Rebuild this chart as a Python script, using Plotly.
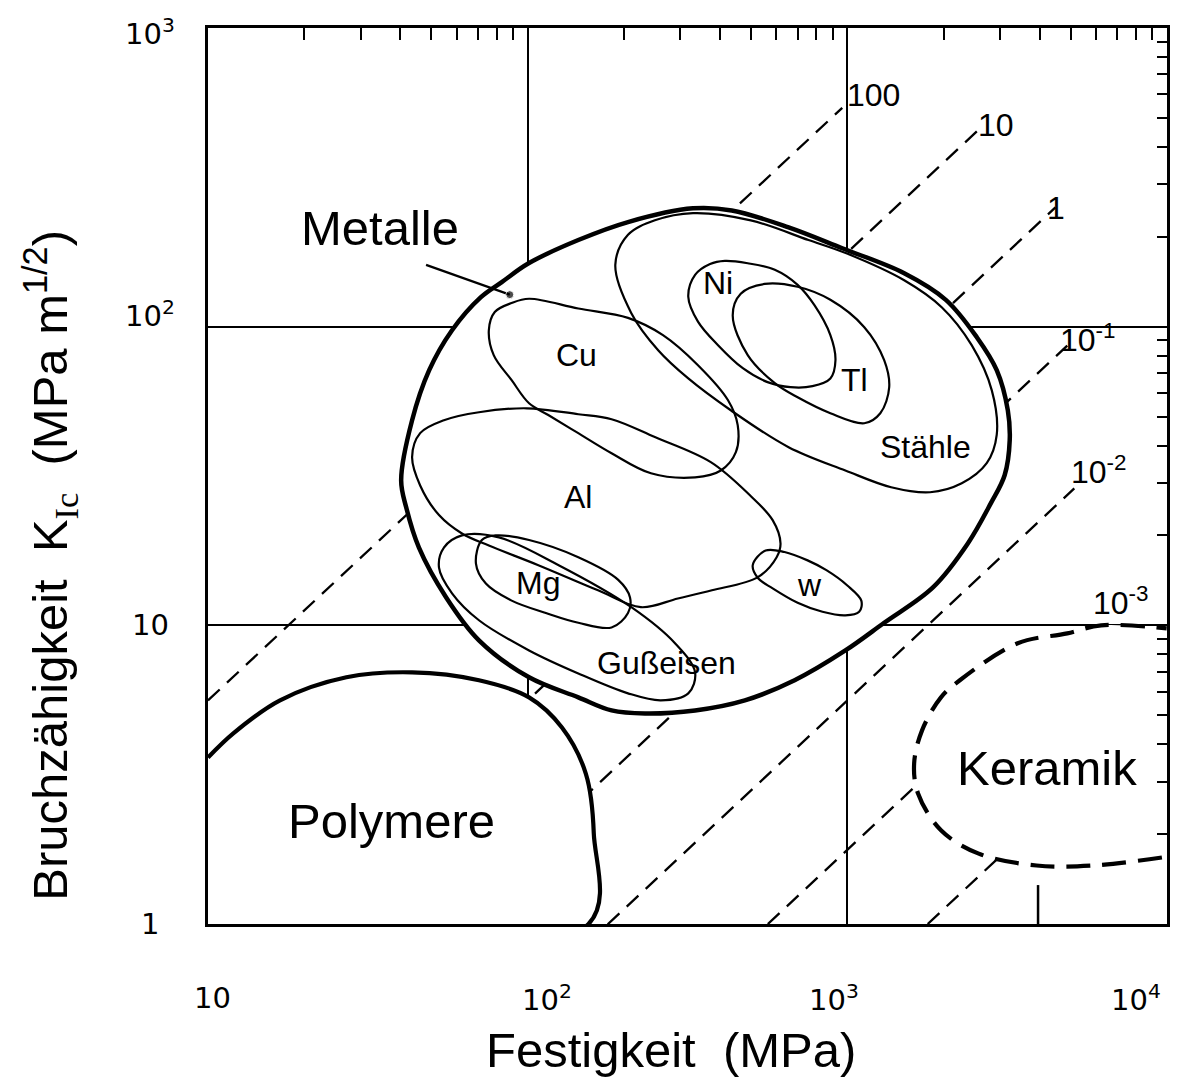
import numpy as np
import plotly.graph_objects as go

# ---------------- axis tick data ----------------
x_tick_vals = [10, 100, 1000, 10000]
x_tick_text = ["10", "10<sup>2</sup>", "10<sup>3</sup>", "10<sup>4</sup>"]
y_tick_vals = [1, 10, 100, 1000]
y_tick_text = ["1", "10", "10<sup>2</sup>", "10<sup>3</sup>"]
grid_x = [100, 1000]
grid_y = [10, 100]
minor_x = [20, 30, 40, 50, 60, 70, 80, 90, 200, 300, 400, 500, 600, 700, 800, 900,
           2000, 3000, 4000, 5000, 6000, 7000, 8000, 9000]
minor_y = [2, 3, 4, 5, 6, 7, 8, 9, 20, 30, 40, 50, 60, 70, 80, 90,
           200, 300, 400, 500, 600, 700, 800, 900]

# ---------------- process-zone lines  K^2/(pi*sigma^2) = c (mm) ----------------
zone_c = [100, 10, 1, 0.1, 0.01, 0.001, 0.0001]
zone_sigma_start = [10, 300, 17.8, 56.4, 178, 564, 1784]
zone_sigma_end = [964, 2541, 4477, 4875, 5129, 2500, 3500]
zone_labels = ["100", "10", "1", "10<sup>-1</sup>", "10<sup>-2</sup>", "10<sup>-3</sup>", ""]
zone_label_sigma = [1205, 2911, 4509, 5675, 6138, 7194, None]
zone_label_K = [597, 473, 250, 91.5, 33.0, 12.1, None]

# ---------------- material field outlines (sigma MPa, K MPa m^1/2) ----------------
metals_sigma = [40.2, 43.5, 49.2, 58.0, 71.4, 83.0, 100.7, 144, 206, 329, 435, 655, 964, 1506,
                2033, 2541, 2933, 3177, 3221, 3105, 2810, 2382, 1853, 1304, 986, 684, 478, 334,
                233, 183, 144, 101, 70.4, 55.6, 45.7, 41.7]
metals_K = [30.6, 48.6, 71.5, 97.3, 125.6, 141, 163, 195, 224, 249, 245, 215, 183, 151,
            123, 92.2, 71.5, 52.5, 41.7, 31.8, 25.6, 18.8, 13.4, 10.2, 8.24, 6.55, 5.61, 5.19,
            5.07, 5.19, 5.74, 6.70, 8.91, 12.4, 18.2, 24.8]

steel_sigma = [188, 206, 250, 329, 499, 756, 993, 1506, 1977, 2449, 2831, 2933, 2729, 2280,
               1815, 1371, 986, 655, 432, 318, 256, 211]
steel_K = [161, 203, 227, 240, 227, 195, 176, 143, 116, 86.7, 61.2, 43.4, 34.9, 29.9,
           27.9, 29.0, 33.0, 39.5, 52.5, 67.1, 83.4, 111]

ni_sigma = [318, 334, 372, 414, 488, 593, 699, 789, 885, 918, 885, 778, 664, 563, 471, 394, 341]
ni_K = [126, 149, 162, 166, 163, 155, 138, 118, 93.7, 77.2, 67.1, 63.2, 62.7, 65.2, 72.6, 86.7, 104]

ti_sigma = [438, 464, 551, 699, 885, 1130, 1304, 1352, 1268, 1130, 885, 699, 593, 488]
ti_K = [109, 129, 139, 136, 123, 99.6, 77.2, 62.7, 51.3, 47.5, 51.3, 58.0, 64.7, 80.3]

cu_sigma = [75.6, 78.9, 89.1, 101, 144, 206, 265, 341, 423, 454, 448, 402, 334, 243, 183,
            144, 116, 101, 89.1, 78.3]
cu_K = [97.3, 112, 120, 124, 115, 107, 93.7, 74.3, 56.8, 46.8, 38.0, 33.0, 31.3, 32.3, 37.7,
        44.0, 50.6, 55.4, 66.2, 80.3]

al_sigma = [43.5, 46.1, 54.7, 70.4, 99.3, 144, 183, 250, 374, 495, 584, 618, 601, 525, 377,
            295, 226, 166, 108, 75.6, 62.3, 52.8, 46.1]
al_K = [36.6, 44.0, 48.6, 51.7, 53.3, 50.9, 49.0, 42.7, 35.2, 27.3, 22.5, 18.8, 16.9, 14.5, 13.1,
        12.3, 11.5, 13.1, 15.9, 18.5, 20.3, 23.4, 29.4]

mg_sigma = [71.9, 68.9, 74.0, 89.1, 114, 144, 183, 206, 209, 192, 144, 101, 79.4]
mg_K = [19.3, 16.1, 13.8, 12.1, 11.0, 10.2, 9.84, 11.0, 12.4, 14.2, 16.9, 19.3, 20.0]

castiron_sigma = [62.3, 81.3, 125, 211, 289, 334, 318, 261, 206, 144, 101, 70.4, 58.0, 52.8, 54.7]
castiron_K = [20.0, 19.7, 15.9, 11.5, 8.71, 6.96, 5.92, 5.61, 5.92, 6.90, 8.24, 10.4, 12.8, 15.6, 18.2]

w_sigma = [506, 555, 636, 751, 860, 1000, 1106, 1089, 986, 836, 699, 584, 525]
w_K = [15.9, 17.8, 17.6, 16.5, 15.3, 13.6, 12.1, 11.1, 10.8, 11.1, 11.9, 13.3, 14.4]

polymer_sigma = [10, 12.0, 16.8, 27.1, 43.5, 70.4, 101, 128, 152, 161, 155]
polymer_K = [3.61, 4.35, 5.61, 6.70, 6.96, 6.55, 5.74, 4.55, 3.19, 2.01, 1.0]

ceramic_sigma = [9640, 5875, 3908, 2576, 1963, 1663, 1618, 1713, 1963, 2249, 3412, 4875, 6223, 9978]
ceramic_K = [1.67, 1.57, 1.57, 1.72, 2.06, 2.74, 3.45, 4.45, 5.74, 6.55, 8.71, 9.40, 10.0, 9.77]

pointer_sigma = [48.1, 87.9]
pointer_K = [161, 128]
stub_sigma = [3950, 3950]
stub_K = [1.0, 1.35]

# ---------------- labels ----------------
field_names = ["Metalle", "Polymere", "Keramik"]
field_sigma = [34.4, 37.4, 4198]
field_K = [214, 2.22, 3.34]

sub_names = ["Cu", "Ni", "Tl", "Stähle", "Al", "Mg", "w", "Gußeisen"]
sub_sigma = [142, 394, 1052, 1750, 144, 108, 762, 271]
sub_K = [80.4, 140, 66.2, 39.4, 26.8, 13.9, 13.6, 7.46]

# label pixel nudges (style only)
x_label_dx = [4, 19, -13, -31]
y_label_dy = [0, 0, 13, -4]

FONT = "Liberation Sans, Arial, Helvetica, sans-serif"
TICKFONT = "DejaVu Sans, Liberation Sans, sans-serif"
fig = go.Figure()


def closed(xs, ys):
    return list(xs) + [xs[0]], list(ys) + [ys[0]]


# process-zone dashed lines
for c, s0, s1 in zip(zone_c, zone_sigma_start, zone_sigma_end):
    f = np.sqrt(np.pi * c / 1000.0)
    fig.add_trace(go.Scatter(x=[s0, s1], y=[s0 * f, s1 * f], mode="lines",
                             line=dict(color="black", width=2.3, dash="16px,10px"),
                             hoverinfo="skip", showlegend=False))

fig.add_trace(go.Scatter(x=stub_sigma, y=stub_K, mode="lines",
                         line=dict(color="black", width=2.5), hoverinfo="skip", showlegend=False))

# polymer field (white fill hides grid + lines beneath)
px_, py_ = polymer_sigma + [8.0, 8.0], polymer_K + [0.8, polymer_K[0]]
fig.add_trace(go.Scatter(x=px_, y=py_, mode="lines", fill="toself", fillcolor="white",
                         line=dict(color="black", width=4.2, shape="spline", smoothing=1.0),
                         hoverinfo="skip", showlegend=False))

# ceramic field: white fill, then dashed outline
cx_ = ceramic_sigma + [12000, 12000, ceramic_sigma[0]]
cy_ = ceramic_K + [ceramic_K[-1], ceramic_K[0], ceramic_K[0]]
fig.add_trace(go.Scatter(x=cx_, y=cy_, mode="lines", fill="toself", fillcolor="white",
                         line=dict(color="rgba(0,0,0,0)", width=0, shape="spline", smoothing=1.0),
                         hoverinfo="skip", showlegend=False))
fig.add_trace(go.Scatter(x=ceramic_sigma, y=ceramic_K, mode="lines",
                         line=dict(color="black", width=4.2, dash="24px,12px",
                                   shape="spline", smoothing=1.0),
                         hoverinfo="skip", showlegend=False))

# metals field
mx, my = closed(metals_sigma, metals_K)
fig.add_trace(go.Scatter(x=mx, y=my, mode="lines", fill="toself", fillcolor="white",
                         line=dict(color="black", width=4.5, shape="spline", smoothing=1.0),
                         hoverinfo="skip", showlegend=False))

# sub-fields
for xs, ys in [(steel_sigma, steel_K), (ni_sigma, ni_K), (ti_sigma, ti_K), (cu_sigma, cu_K),
               (al_sigma, al_K), (mg_sigma, mg_K), (castiron_sigma, castiron_K), (w_sigma, w_K)]:
    sx, sy = closed(xs, ys)
    fig.add_trace(go.Scatter(x=sx, y=sy, mode="lines",
                             line=dict(color="black", width=2.2, shape="spline", smoothing=1.0),
                             hoverinfo="skip", showlegend=False))

# pointer for "Metalle"
fig.add_trace(go.Scatter(x=pointer_sigma, y=pointer_K, mode="lines+markers",
                         line=dict(color="black", width=2.2),
                         marker=dict(color="black", size=[0, 8]),
                         hoverinfo="skip", showlegend=False))

# dummy trace for top/right tick axes
fig.add_trace(go.Scatter(x=[10], y=[1], xaxis="x2", yaxis="y2", mode="markers",
                         marker=dict(opacity=0), hoverinfo="skip", showlegend=False))

annotations = []
for t, s, k in zip(field_names, field_sigma, field_K):
    annotations.append(dict(x=np.log10(s), y=np.log10(k), xref="x", yref="y", text=t,
                            xanchor="center", yanchor="middle",
                            showarrow=False, font=dict(size=49, family=FONT, color="black")))
for t, s, k in zip(sub_names, sub_sigma, sub_K):
    annotations.append(dict(x=np.log10(s), y=np.log10(k), xref="x", yref="y", text=t,
                            xanchor="center", yanchor="middle",
                            showarrow=False, font=dict(size=32, family=FONT, color="black")))
for t, s, k in zip(zone_labels, zone_label_sigma, zone_label_K):
    if not t:
        continue
    annotations.append(dict(x=np.log10(s), y=np.log10(k), xref="x", yref="y", text=t,
                            xanchor="center", yanchor="middle",
                            showarrow=False, font=dict(size=32, family=FONT, color="black")))
for v, t, dx in zip(x_tick_vals, x_tick_text, x_label_dx):
    annotations.append(dict(x=np.log10(v), y=0, xref="x", yref="paper", yshift=-74,
                            xshift=dx, xanchor="center", yanchor="middle",
                            text=t, showarrow=False,
                            font=dict(size=29, family=TICKFONT, color="black")))
for v, t, dy in zip(y_tick_vals, y_tick_text, y_label_dy):
    annotations.append(dict(x=0, y=np.log10(v), xref="paper", yref="y", xshift=-58,
                            yshift=dy, xanchor="center", yanchor="middle", text=t,
                            showarrow=False,
                            font=dict(size=29, family=TICKFONT, color="black")))
annotations.append(dict(x=0.483, y=-0.1406, xref="paper", yref="paper",
                        xanchor="center", yanchor="middle",
                        text="Festigkeit  (MPa)", showarrow=False,
                        font=dict(size=49, family=FONT, color="black")))
annotations.append(dict(x=-0.164, y=0.4007, xref="paper", yref="paper", textangle=-90,
                        xanchor="center", yanchor="middle",
                        text="Bruchzähigkeit  K<sub><span style=\"font-family:'Liberation Serif'\">Ic</span></sub>  (MPa m<sup>1/2</sup>)",
                        showarrow=False, font=dict(size=49, family=FONT, color="black")))

fig.update_layout(
    width=1173, height=1071,
    margin=dict(l=200, r=11, t=20, b=155),
    paper_bgcolor="white", plot_bgcolor="white",
    showlegend=False,
    annotations=annotations,
    xaxis=dict(type="log", range=[1, 4], tickvals=grid_x, showticklabels=False,
               showgrid=True, gridcolor="black", gridwidth=2, zeroline=False,
               showline=True, linecolor="black", linewidth=3, mirror=True, ticks=""),
    yaxis=dict(type="log", range=[0, 3], tickvals=grid_y, showticklabels=False,
               showgrid=True, gridcolor="black", gridwidth=2, zeroline=False,
               showline=True, linecolor="black", linewidth=3, mirror=True, ticks=""),
    xaxis2=dict(type="log", range=[1, 4], overlaying="x", side="top", anchor="y2",
                tickvals=minor_x, ticks="inside", ticklen=12, tickwidth=2, tickcolor="black",
                showticklabels=False, showgrid=False, zeroline=False, showline=False),
    yaxis2=dict(type="log", range=[0, 3], overlaying="y", side="right", anchor="x2",
                tickvals=minor_y, ticks="inside", ticklen=10, tickwidth=2, tickcolor="black",
                showticklabels=False, showgrid=False, zeroline=False, showline=False),
)

fig.write_html("out.html")
